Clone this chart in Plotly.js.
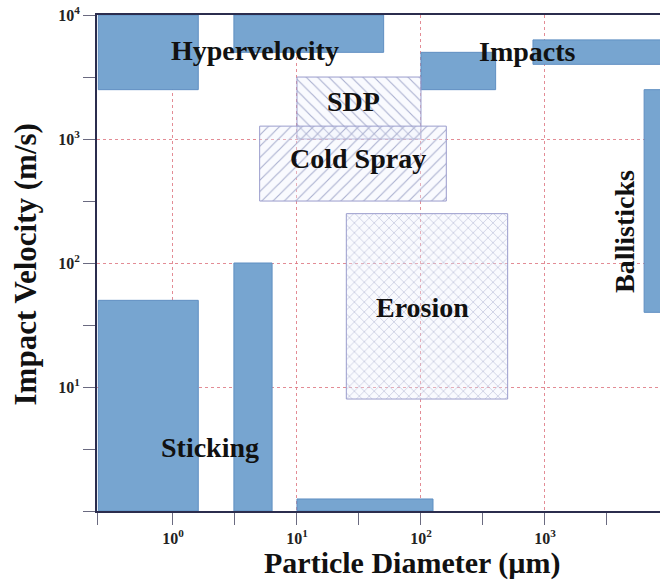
<!DOCTYPE html>
<html>
<head>
<meta charset="utf-8">
<script src="https://cdn.plot.ly/plotly-3.0.1.min.js"></script>
<style>
  html, body { margin: 0; padding: 0; background: #fff; overflow: hidden; }
  #chart { width: 680px; height: 582px; }
</style>
</head>
<body>
<div id="chart"></div>
<script>
// Impact regimes: particle diameter (µm) vs impact velocity (m/s)
const regionNames = ['Hypervelocity A', 'Hypervelocity B', 'Impacts A', 'Impacts B',
                     'Ballisticks', 'Sticking A', 'Sticking B', 'Sticking C',
                     'SDP', 'Cold Spray', 'Erosion'];
const diameterLow  = [0.25, 3.1, 100, 800, 6300, 0.25, 3.1, 10, 10, 5, 25];
const diameterHigh = [1.6, 50, 400, 10000, 10000, 1.6, 6.3, 125, 100, 160, 500];
const velocityLow  = [2500, 5000, 2500, 4000, 40, 1, 1, 1, 1000, 316, 8];
const velocityHigh = [10000, 10000, 5000, 6300, 2500, 50, 100, 1.25, 3160, 1270, 250];
const regionHatch  = ['', '', '', '', '', '', '', '', '\\', '/', 'x'];

// Region labels and their anchor points (diameter, velocity)
const labelText = ['Hypervelocity', 'Impacts', 'SDP', 'Cold Spray', 'Erosion', 'Sticking', 'Ballisticks'];
const labelDiameter = [4.6, 716, 28.3, 31, 102, 1.99, 4420];
const labelVelocity = [5220, 5035, 1990, 690, 43.4, 3.28, 178];
const labelAngle = [0, 0, 0, 0, 0, 0, -90];

const xTicks = [1, 10, 100, 1000];
const xTickText = ['10<sup>0</sup>', '10<sup>1</sup>', '10<sup>2</sup>', '10<sup>3</sup>'];
const xMinorTicks = [0.244, 3.162, 31.62, 316.2, 3162];
const yTicks = [1, 10, 100, 1000, 10000];
const yTickText = ['', '10<sup>1</sup>', '10<sup>2</sup>', '10<sup>3</sup>', '10<sup>4</sup>'];
const yMinorTicks = [3.162, 31.62, 316.2, 3162];

const xTitle = 'Particle Diameter (µm)';
const yTitle = 'Impact Velocity (m/s)';

const serif = "'Liberation Serif', 'Times New Roman', serif";
const solidBlue = '#77a5d0';
const solidEdge = '#5f8fc2';

const traces = regionNames.map((name, i) => {
  const x0 = diameterLow[i], x1 = diameterHigh[i];
  const y0 = velocityLow[i], y1 = velocityHigh[i];
  const t = {
    type: 'scatter',
    mode: 'lines',
    name: name,
    x: [x0, x1, x1, x0, x0],
    y: [y0, y0, y1, y1, y0],
    fill: 'toself',
    hoverinfo: 'name',
    showlegend: false
  };
  if (regionHatch[i]) {
    t.line = { color: '#9a9ccc', width: 1 };
    t.fillcolor = 'rgba(236,241,250,0.35)';
    t.fillpattern = {
      shape: regionHatch[i],
      fgcolor: '#aab0cf',
      bgcolor: 'rgba(236,241,250,0.35)',
      size: regionHatch[i] === 'x' ? 7 : 8,
      solidity: 0.14
    };
  } else {
    t.line = { color: solidEdge, width: 1 };
    t.fillcolor = solidBlue;
  }
  return t;
});

const annotations = labelText.map((txt, i) => ({
  text: txt,
  x: Math.log10(labelDiameter[i]),
  y: Math.log10(labelVelocity[i]),
  xref: 'x', yref: 'y',
  showarrow: false,
  textangle: labelAngle[i],
  font: { family: serif, size: 28, color: '#111', weight: 700 }
}));

// axis titles, placed as paper-anchored text
annotations.push({
  text: xTitle,
  xref: 'paper', yref: 'paper',
  x: 0.5524, y: 0, yshift: -52,
  xanchor: 'center', yanchor: 'middle',
  showarrow: false,
  font: { family: serif, size: 30, color: '#111', weight: 700 }
});
annotations.push({
  text: yTitle,
  xref: 'paper', yref: 'paper',
  x: 0, xshift: -72, y: 0.497,
  xanchor: 'center', yanchor: 'middle',
  textangle: -90,
  showarrow: false,
  font: { family: serif, size: 31, color: '#111', weight: 700 }
});

const gridColor = 'rgba(222,120,130,0.85)';

const axisBase = {
  type: 'log',
  ticks: 'outside',
  ticklen: 12,
  tickwidth: 1,
  tickcolor: '#6a6a80',
  showline: true,
  linecolor: '#2b2d4e',
  linewidth: 2,
  mirror: true,
  showgrid: true,
  gridcolor: gridColor,
  gridwidth: 1,
  griddash: '3px,3px',
  zeroline: false,
  tickfont: { family: serif, size: 16, color: '#222', weight: 700 }
};

const layout = {
  width: 680,
  height: 582,
  margin: { l: 97, r: 11, t: 15, b: 71 },
  paper_bgcolor: '#fff',
  plot_bgcolor: '#fff',
  showlegend: false,
  annotations: annotations,
  xaxis: Object.assign({}, axisBase, {
    range: [Math.log10(0.244), 4],
    tickvals: xTicks,
    ticktext: xTickText,
    minor: { tickvals: xMinorTicks, ticks: 'outside', ticklen: 12, tickwidth: 1, tickcolor: '#6a6a80', showgrid: false }
  }),
  yaxis: Object.assign({}, axisBase, {
    range: [0, 4],
    tickvals: yTicks,
    ticktext: yTickText,
    minor: { tickvals: yMinorTicks, ticks: 'outside', ticklen: 12, tickwidth: 1, tickcolor: '#6a6a80', showgrid: false }
  })
};

Plotly.newPlot('chart', traces, layout, { displayModeBar: false, staticPlot: true });
</script>
</body>
</html>
